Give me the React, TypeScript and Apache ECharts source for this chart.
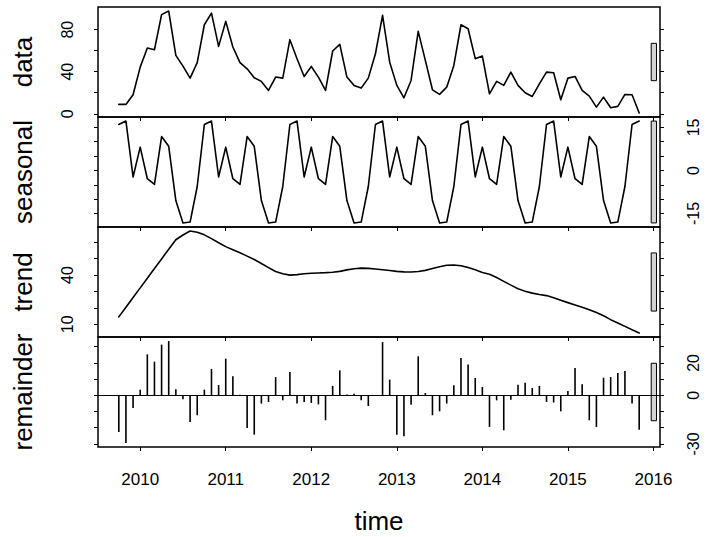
import React, { useEffect, useRef } from 'react';
import * as echarts from 'echarts';

// Monthly series starting October 2009
const startYear = 2009;
const startMonthIndex = 9; // 0-based: October
const yearTicks = [2010, 2011, 2012, 2013, 2014, 2015, 2016];
const panelNames = ['data', 'seasonal', 'trend', 'remainder'];

const dataValues = [
  8.9, 8.9, 18.1, 44.4, 62.5, 60.9, 94.3, 97.7, 55.5, 45.3, 33.9, 48.6,
  84.7, 95.8, 64.1, 87.9, 63.5, 48.6, 42.8, 34.3, 30.8, 22.2, 34.9, 33.9,
  70.5, 52.4, 35.5, 45.0, 34.9, 22.2, 59.7, 66.0, 34.9, 27.0, 24.4, 33.9,
  57.1, 93.6, 49.1, 27.0, 15.2, 31.7, 78.4, 50.8, 22.8, 18.4, 25.3, 46.0,
  84.7, 80.9, 52.4, 54.9, 19.0, 30.8, 27.0, 39.6, 27.0, 20.0, 16.5, 28.5,
  39.6, 39.0, 13.3, 33.9, 35.5, 22.2, 16.8, 6.3, 15.8, 5.7, 7.0, 18.4,
  18.1, 0.8,
];

const seasonalValues = [
  16.0, 17.2, -2.3, 8.1, -2.9, -4.9, 11.8, 8.4, -10.5, -18.3, -18.0, -5.6,
  16.0, 17.2, -2.3, 8.1, -2.9, -4.9, 11.8, 8.4, -10.5, -18.3, -18.0, -5.6,
  16.0, 17.2, -2.3, 8.1, -2.9, -4.9, 11.8, 8.4, -10.5, -18.3, -18.0, -5.6,
  16.0, 17.2, -2.3, 8.1, -2.9, -4.9, 11.8, 8.4, -10.5, -18.3, -18.0, -5.6,
  16.0, 17.2, -2.3, 8.1, -2.9, -4.9, 11.8, 8.4, -10.5, -18.3, -18.0, -5.6,
  16.0, 17.2, -2.3, 8.1, -2.9, -4.9, 11.8, 8.4, -10.5, -18.3, -18.0, -5.6,
  16.0, 17.2,
];

const trendValues = [
  14.5, 20.4, 26.3, 32.2, 38.1, 44.0, 49.9, 55.8, 61.6, 64.5, 66.9, 66.2,
  64.6, 62.3, 59.8, 57.4, 55.5, 53.7, 51.6, 49.5, 47.1, 44.6, 42.2, 40.8,
  40.0, 40.3, 40.8, 41.1, 41.3, 41.5, 41.8, 42.3, 43.2, 43.9, 44.3, 44.1,
  43.7, 43.3, 42.8, 42.3, 42.0, 41.9, 42.2, 42.9, 44.0, 45.1, 46.0, 46.2,
  45.7, 44.6, 43.3, 41.6, 40.5, 38.5, 36.2, 33.9, 31.7, 30.2, 29.0, 28.2,
  27.5, 26.2, 24.6, 23.2, 21.8, 20.4, 18.9, 17.2, 15.2, 12.8, 10.8, 8.7,
  6.6, 4.7,
];

const remainderValues = [
  -22.6, -29.4, -7.8, 3.5, 25.3, 20.8, 31.3, 33.5, 3.7, -2.5, -16.5, -12.3,
  3.5, 16.3, 6.4, 22.6, 11.7, 0.3, -20.2, -24.3, -5.1, -4.1, 11.3, -3.1,
  14.4, -5.1, -4.1, -4.7, -5.6, -15.4, 5.8, 15.4, 0.5, 1.0, -3.1, -6.6,
  -0.3, 32.9, 9.7, -24.3, -25.3, -5.8, 24.1, 1.4, -12.3, -9.9, -5.1, 6.2,
  23.0, 19.1, 10.7, 5.1, -19.5, -3.1, -21.6, -2.7, 6.6, 7.8, 4.5, 5.8,
  -4.1, -4.4, -9.9, 2.7, 16.9, 6.8, -15.4, -19.5, 10.9, 11.3, 13.8, 15.0,
  -5.1, -21.2,
];

const yTicks = [
  [0, 20, 40, 60, 80],
  [-15, -10, -5, 0, 5, 10, 15],
  [10, 20, 30, 40, 50, 60],
  [-30, -20, -10, 0, 10, 20, 30],
];
const yLabels = [
  [0, 40, 80],
  [-15, 0, 15],
  [10, 40],
  [-30, 0, 20],
];

const FONT = '"Liberation Sans", Arial, Helvetica, sans-serif';

export default function App() {
  const ref = useRef<HTMLDivElement>(null);

  useEffect(() => {
    if (!ref.current) return;
    const chart = echarts.init(ref.current, undefined, { renderer: 'svg' });

    const times = dataValues.map((_, i) => startYear + (startMonthIndex + i) / 12);
    const comps = [dataValues, seasonalValues, trendValues, remainderValues];
    const tMin = times[0];
    const tMax = times[times.length - 1];
    const xPad = 0.04 * (tMax - tMin);
    const xMin = tMin - xPad;
    const xMax = tMax + xPad;

    const ranges = comps.map((c) => [Math.min(...c), Math.max(...c)]);
    const mx = Math.min(...ranges.map((r) => r[1] - r[0]));
    const limits = ranges.map(([lo, hi]) => {
      const p = 0.04 * (hi - lo);
      return [lo - p, hi + p];
    });
    const dx = (xMax - xMin) / 64;

    const L = 98, W = 562, T0 = 7, H = 110;

    const grids = panelNames.map((_, g) => ({
      left: L,
      top: T0 + H * g,
      width: W,
      height: H,
      show: true,
      borderColor: '#000',
      borderWidth: 1.5,
      backgroundColor: 'rgba(0,0,0,0)',
    }));

    const xAxes = panelNames.map((_, g) => ({
      type: 'value',
      gridIndex: g,
      position: 'bottom',
      min: xMin,
      max: xMax,
      axisLine: { show: false, onZero: false },
      axisTick: {
        show: true,
        customValues: yearTicks,
        length: 4,
        lineStyle: { color: '#000', width: 1 },
      },
      axisLabel: {
        show: g === 3,
        customValues: yearTicks,
        formatter: (v: number) => String(Math.round(v)),
        fontSize: 17,
        color: '#000',
        fontFamily: FONT,
        margin: 24,
      },
      splitLine: { show: false },
    }));

    const yAxes: any[] = [];
    panelNames.forEach((_, g) => {
      const labelsRight = g % 2 === 1;
      ['left', 'right'].forEach((pos) => {
        const showLabels = (pos === 'right') === labelsRight;
        yAxes.push({
          type: 'value',
          gridIndex: g,
          position: pos,
          min: limits[g][0],
          max: limits[g][1],
          axisLine: { show: false, onZero: false },
          axisTick: {
            show: true,
            customValues: yTicks[g],
            length: 4,
            lineStyle: { color: '#000', width: 1 },
          },
          axisLabel: {
            show: showLabels,
            customValues: yLabels[g],
            formatter: (v: number) => String(Math.round(v)),
            rotate: 90,
            fontSize: 16,
            color: '#000',
            fontFamily: FONT,
            margin: pos === 'left' ? 23 : 25,
          },
          splitLine: { show: false },
        });
      });
    });

    const series: any[] = [];
    comps.forEach((c, g) => {
      const pts = c.map((v, i) => [times[i], v]);
      if (g < 3) {
        series.push({
          type: 'line',
          xAxisIndex: g,
          yAxisIndex: 2 * g,
          data: pts,
          showSymbol: false,
          lineStyle: { color: '#000', width: 1.6, join: 'round', cap: 'round' },
          silent: true,
        });
      } else {
        series.push({
          type: 'bar',
          xAxisIndex: g,
          yAxisIndex: 2 * g,
          data: pts,
          barWidth: 1.6,
          itemStyle: { color: '#000' },
          silent: true,
          markLine: {
            silent: true,
            symbol: 'none',
            label: { show: false },
            lineStyle: { color: '#000', type: 'solid', width: 1 },
            data: [{ yAxis: 0 }],
          },
        });
      }
      const mid = (ranges[g][0] + ranges[g][1]) / 2;
      series.push({
        type: 'custom',
        xAxisIndex: g,
        yAxisIndex: 2 * g,
        clip: false,
        silent: true,
        data: [[xMax - dx, mid - mx / 2, xMax - 0.4 * dx, mid + mx / 2]],
        renderItem: (params: any, api: any) => {
          const p1 = api.coord([api.value(0), api.value(1)]);
          const p2 = api.coord([api.value(2), api.value(3)]);
          return {
            type: 'rect',
            shape: { x: p1[0], y: p2[1], width: p2[0] - p1[0], height: p1[1] - p2[1] },
            style: { fill: '#D3D3D3', stroke: '#000', lineWidth: 1 },
          };
        },
      });
    });

    const graphic: any[] = panelNames.map((name, g) => ({
      type: 'text',
      x: 23,
      y: T0 + H * g + H / 2,
      rotation: Math.PI / 2,
      style: {
        text: name,
        fontSize: 26,
        fontFamily: FONT,
        fill: '#000',
        align: 'center',
        verticalAlign: 'middle',
      },
    }));
    graphic.push({
      type: 'text',
      x: L + W / 2,
      y: 521,
      style: {
        text: 'time',
        fontSize: 26,
        fontFamily: FONT,
        fill: '#000',
        align: 'center',
        verticalAlign: 'middle',
      },
    });

    chart.setOption({
      animation: false,
      backgroundColor: '#fff',
      grid: grids,
      xAxis: xAxes,
      yAxis: yAxes,
      series,
      graphic,
    });

    return () => chart.dispose();
  }, []);

  return (
    <div
      ref={ref}
      style={{ position: 'fixed', left: 0, top: 0, width: 708, height: 537 }}
    />
  );
}
